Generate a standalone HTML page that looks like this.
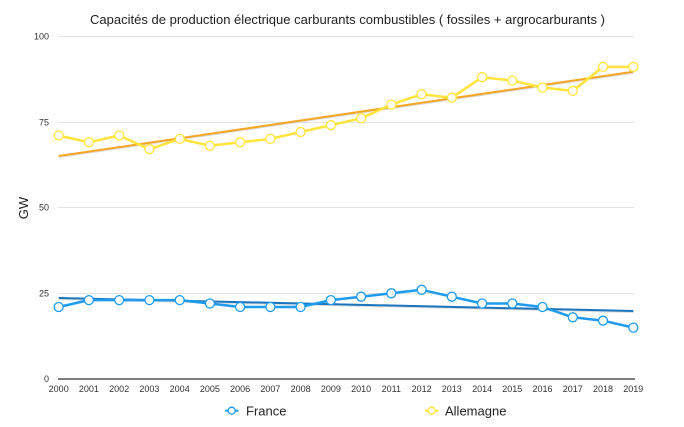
<!DOCTYPE html>
<html><head><meta charset="utf-8"><style>
html,body{margin:0;padding:0;background:#fff;}
svg{display:block;font-family:"Liberation Sans",Arial,sans-serif;}
</style></head><body>
<svg width="684" height="427" viewBox="0 0 684 427" xmlns="http://www.w3.org/2000/svg">
<rect width="684" height="427" fill="#fff"/>
<text x="90" y="24" font-size="13" fill="#222" textLength="515" lengthAdjust="spacingAndGlyphs">Capacités de production électrique carburants combustibles ( fossiles + argrocarburants )</text>
<g stroke="#e2e2e2" stroke-width="1">
<line x1="58" y1="36.5" x2="634" y2="36.5"/>
<line x1="58" y1="122.5" x2="634" y2="122.5"/>
<line x1="58" y1="207.5" x2="634" y2="207.5"/>
<line x1="58" y1="293.5" x2="634" y2="293.5"/>
</g>
<line x1="58" y1="379" x2="635" y2="379" stroke="#555" stroke-width="1.5"/>
<g font-size="9" fill="#333" text-anchor="end">
<text x="49" y="39.5">100</text>
<text x="49" y="125.5">75</text>
<text x="49" y="210.5">50</text>
<text x="49" y="296.5">25</text>
<text x="49" y="382">0</text>
</g>
<text x="0" y="0" font-size="13" fill="#222" text-anchor="middle" transform="translate(28,208) rotate(-90)">GW</text>
<g font-size="9" fill="#333" text-anchor="middle">
<text x="58.7" y="392">2000</text><text x="88.9" y="392">2001</text><text x="119.2" y="392">2002</text><text x="149.4" y="392">2003</text><text x="179.7" y="392">2004</text><text x="209.9" y="392">2005</text><text x="240.1" y="392">2006</text><text x="270.4" y="392">2007</text><text x="300.6" y="392">2008</text><text x="330.9" y="392">2009</text><text x="361.1" y="392">2010</text><text x="391.3" y="392">2011</text><text x="421.6" y="392">2012</text><text x="451.8" y="392">2013</text><text x="482.1" y="392">2014</text><text x="512.3" y="392">2015</text><text x="542.5" y="392">2016</text><text x="572.8" y="392">2017</text><text x="603.0" y="392">2018</text><text x="633.3" y="392">2019</text>
</g>
<!-- trends -->
<line x1="58.7" y1="157" x2="633.3" y2="72.7" stroke="#c8c8c8" stroke-width="2" opacity="0.6"/>
<line x1="58.7" y1="156" x2="633.3" y2="71.7" stroke="#F5A623" stroke-width="2"/>
<line x1="58.7" y1="299" x2="633.3" y2="312" stroke="#c8c8c8" stroke-width="2" opacity="0.6"/>
<line x1="58.7" y1="298" x2="633.3" y2="311" stroke="#1B75BC" stroke-width="2"/>
<!-- Allemagne -->
<polyline fill="none" stroke="#FFE53B" stroke-width="2.5" stroke-linejoin="round" points="58.7,135.5 88.9,142.3 119.2,135.5 149.4,149.2 179.7,138.9 209.9,145.8 240.1,142.3 270.4,138.9 300.6,132.0 330.9,125.2 361.1,118.3 391.3,104.6 421.6,94.3 451.8,97.7 482.1,77.2 512.3,80.6 542.5,87.5 572.8,90.9 603.0,66.9 633.3,66.9"/>
<g fill="#fff" stroke="#FFE53B" stroke-width="1.3">
<circle cx="58.7" cy="135.5" r="4.5"/><circle cx="88.9" cy="142.3" r="4.5"/><circle cx="119.2" cy="135.5" r="4.5"/><circle cx="149.4" cy="149.2" r="4.5"/><circle cx="179.7" cy="138.9" r="4.5"/><circle cx="209.9" cy="145.8" r="4.5"/><circle cx="240.1" cy="142.3" r="4.5"/><circle cx="270.4" cy="138.9" r="4.5"/><circle cx="300.6" cy="132.0" r="4.5"/><circle cx="330.9" cy="125.2" r="4.5"/><circle cx="361.1" cy="118.3" r="4.5"/><circle cx="391.3" cy="104.6" r="4.5"/><circle cx="421.6" cy="94.3" r="4.5"/><circle cx="451.8" cy="97.7" r="4.5"/><circle cx="482.1" cy="77.2" r="4.5"/><circle cx="512.3" cy="80.6" r="4.5"/><circle cx="542.5" cy="87.5" r="4.5"/><circle cx="572.8" cy="90.9" r="4.5"/><circle cx="603.0" cy="66.9" r="4.5"/><circle cx="633.3" cy="66.9" r="4.5"/>
</g>
<!-- France -->
<polyline fill="none" stroke="#1E9BEF" stroke-width="2.5" stroke-linejoin="round" points="58.7,307.0 88.9,300.1 119.2,300.1 149.4,300.1 179.7,300.1 209.9,303.5 240.1,307.0 270.4,307.0 300.6,307.0 330.9,300.1 361.1,296.7 391.3,293.3 421.6,289.8 451.8,296.7 482.1,303.5 512.3,303.5 542.5,307.0 572.8,317.3 603.0,320.7 633.3,327.6"/>
<g fill="#fff" stroke="#1E9BEF" stroke-width="1.3">
<circle cx="58.7" cy="307.0" r="4.5"/><circle cx="88.9" cy="300.1" r="4.5"/><circle cx="119.2" cy="300.1" r="4.5"/><circle cx="149.4" cy="300.1" r="4.5"/><circle cx="179.7" cy="300.1" r="4.5"/><circle cx="209.9" cy="303.5" r="4.5"/><circle cx="240.1" cy="307.0" r="4.5"/><circle cx="270.4" cy="307.0" r="4.5"/><circle cx="300.6" cy="307.0" r="4.5"/><circle cx="330.9" cy="300.1" r="4.5"/><circle cx="361.1" cy="296.7" r="4.5"/><circle cx="391.3" cy="293.3" r="4.5"/><circle cx="421.6" cy="289.8" r="4.5"/><circle cx="451.8" cy="296.7" r="4.5"/><circle cx="482.1" cy="303.5" r="4.5"/><circle cx="512.3" cy="303.5" r="4.5"/><circle cx="542.5" cy="307.0" r="4.5"/><circle cx="572.8" cy="317.3" r="4.5"/><circle cx="603.0" cy="320.7" r="4.5"/><circle cx="633.3" cy="327.6" r="4.5"/>
</g>
<!-- legend -->
<line x1="225" y1="410.7" x2="238.5" y2="410.7" stroke="#1E9BEF" stroke-width="2"/>
<circle cx="231.7" cy="410.7" r="3.5" fill="#fff" stroke="#1E9BEF" stroke-width="1.3"/>
<text x="246" y="415.5" font-size="13" fill="#222">France</text>
<line x1="425" y1="410.7" x2="438.5" y2="410.7" stroke="#FFE53B" stroke-width="2"/>
<circle cx="431.7" cy="410.7" r="3.5" fill="#fff" stroke="#FFE53B" stroke-width="1.3"/>
<text x="445" y="415.5" font-size="13" fill="#222">Allemagne</text>
</svg>
</body></html>
